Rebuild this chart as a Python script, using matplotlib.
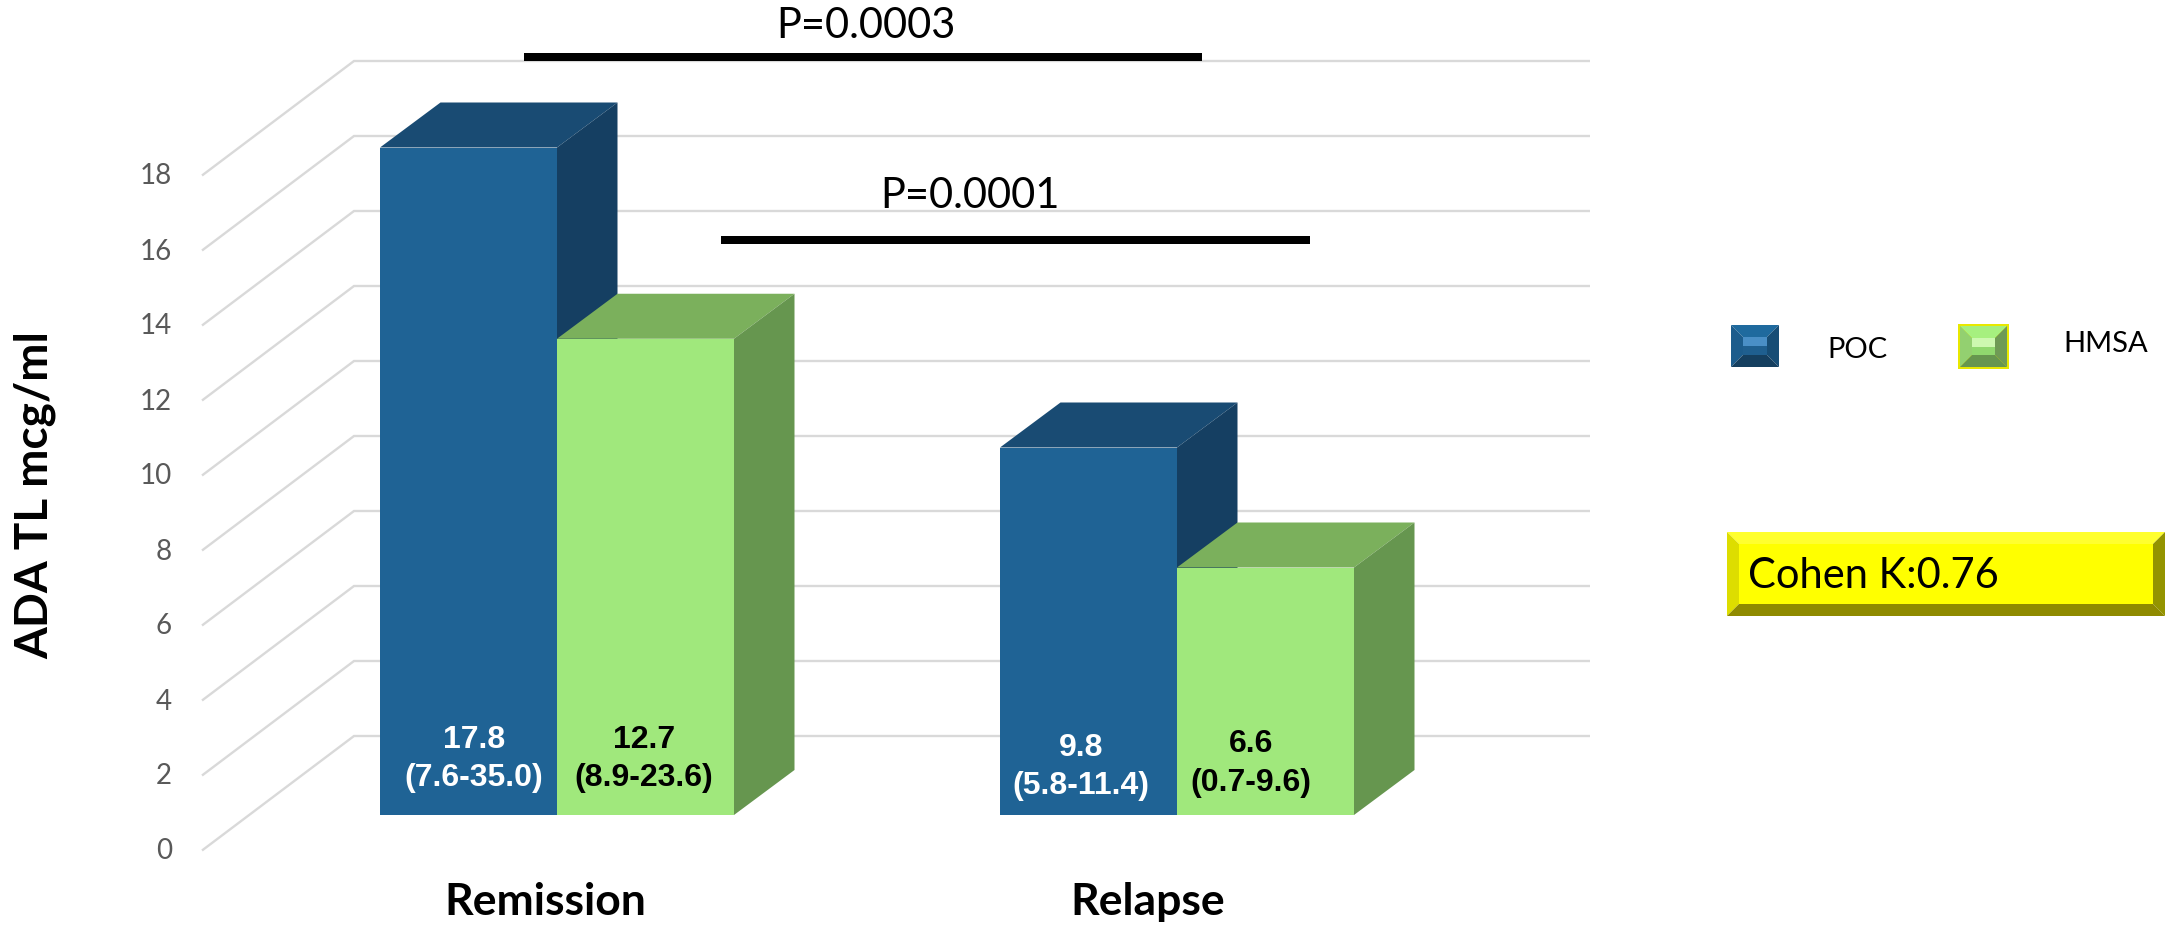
import matplotlib
matplotlib.use('Agg')
import numpy as np
import matplotlib.pyplot as plt
from matplotlib.patches import Polygon, Rectangle

groups = ['Remission', 'Relapse']
series = ['POC', 'HMSA']
poc_values = [17.8, 9.8]
hmsa_values = [12.7, 6.6]
poc_ranges = ['(7.6-35.0)', '(5.8-11.4)']
hmsa_ranges = ['(8.9-23.6)', '(0.7-9.6)']
y_ticks = [0, 2, 4, 6, 8, 10, 12, 14, 16, 18]
p_labels = ['P=0.0003', 'P=0.0001']
kappa_label = 'Cohen K:0.76'
y_title = 'ADA TL mcg/ml'

W, H = 2169, 928
BAR_PX = 177.0
UNIT_PX = 37.5
X0_PX = 380.0
Y0_PX = 816.0

def to_x(px):
    return (px - X0_PX) / BAR_PX

def to_y(py):
    return (Y0_PX - py) / UNIT_PX

# depth of the bars and of the floor, in chart units
depth_x = 60.5 / BAR_PX
depth_y = 45.0 / UNIT_PX
floor_front = to_y(851.5)
wall_back = to_y(737.0)

fig = plt.figure(figsize=(W / 100, H / 100), dpi=100, facecolor='white')
ax = fig.add_axes([0, 0, 1, 1])
ax.set_xlim(to_x(0), to_x(W))
ax.set_ylim(to_y(H), to_y(0))
ax.axis('off')

# overlay in pixel units for annotations, legend and the kappa box
ov = fig.add_axes([0, 0, 1, 1], zorder=5)
ov.set_xlim(0, W)
ov.set_ylim(H, 0)
ov.axis('off')
ov.patch.set_alpha(0)

grid_c = '#D9D9D9'
for t in y_ticks:
    xs = [to_x(202), to_x(354), to_x(1590)]
    ys = [t + floor_front, t + wall_back, t + wall_back]
    ax.plot(xs, ys, color=grid_c, lw=1.7, zorder=1, solid_capstyle='butt', solid_joinstyle='miter')
    ax.text(to_x(172), t + floor_front, str(t), ha='right', va='center',
            family='Lato', fontsize=20, color='#595959')

def bar3d(x, v, front, top, side):
    ax.bar(x, v, width=1.0, align='edge', color=front, zorder=3, linewidth=0)
    ax.add_patch(Polygon([(x, v), (x + 1, v), (x + 1 + depth_x, v + depth_y), (x + depth_x, v + depth_y)],
                         closed=True, facecolor=top, edgecolor='none', zorder=3))
    ax.add_patch(Polygon([(x + 1, 0), (x + 1 + depth_x, depth_y), (x + 1 + depth_x, v + depth_y), (x + 1, v)],
                         closed=True, facecolor=side, edgecolor='none', zorder=3))

group_left = [0.0, to_x(1000)]
for i in range(len(groups)):
    bar3d(group_left[i], poc_values[i], '#1F6395', '#194B73', '#153F62')
    bar3d(group_left[i] + 1, hmsa_values[i], '#A0E87C', '#7BB05C', '#66964F')

# value labels inside the bars
poc_pos = [(474, 740, 778), (1081, 748, 786)]
hmsa_pos = [(644, 740, 778), (1251, 744, 783)]
for i in range(len(groups)):
    px, y1, y2 = poc_pos[i]
    ov.text(px, y1, str(poc_values[i]), ha='center', va='center', family='Liberation Sans',
            weight='bold', fontsize=23, color='white')
    ov.text(px, y2, poc_ranges[i], ha='center', va='center', family='Liberation Sans',
            weight='bold', fontsize=23, color='white')
    px, y1, y2 = hmsa_pos[i]
    ov.text(px, y1, str(hmsa_values[i]), ha='center', va='center', family='Liberation Sans',
            weight='bold', fontsize=23, color='black')
    ov.text(px, y2, hmsa_ranges[i], ha='center', va='center', family='Liberation Sans',
            weight='bold', fontsize=23, color='black')

group_label_x = [545, 1148]
for name, px in zip(groups, group_label_x):
    ov.text(px, 902, name, ha='center', va='center', family='Lato', weight='bold', fontsize=32, color='black')

ov.text(35, 495, y_title, rotation=90, ha='center', va='center', family='Lato', weight='bold',
        fontsize=33, color='black')

# significance bars
ov.add_patch(Rectangle((524, 54), 1202 - 524, 8, facecolor='black', edgecolor='none'))
ov.add_patch(Rectangle((721, 237), 1310 - 721, 8, facecolor='black', edgecolor='none'))
ov.text(866, 26, p_labels[0], ha='center', va='center', family='Lato', fontsize=30, color='black')
ov.text(970, 196, p_labels[1], ha='center', va='center', family='Lato', fontsize=30, color='black')

def bevel(x0, y0, x1, y1, b, top, left, right, bottom, center):
    ov.add_patch(Polygon([(x0, y0), (x1, y0), (x1 - b, y0 + b), (x0 + b, y0 + b)], facecolor=top, edgecolor='none'))
    ov.add_patch(Polygon([(x0, y0), (x0 + b, y0 + b), (x0 + b, y1 - b), (x0, y1)], facecolor=left, edgecolor='none'))
    ov.add_patch(Polygon([(x1, y0), (x1, y1), (x1 - b, y1 - b), (x1 - b, y0 + b)], facecolor=right, edgecolor='none'))
    ov.add_patch(Polygon([(x0, y1), (x0 + b, y1 - b), (x1 - b, y1 - b), (x1, y1)], facecolor=bottom, edgecolor='none'))
    ov.add_patch(Rectangle((x0 + b, y0 + b), x1 - x0 - 2 * b, y1 - y0 - 2 * b, facecolor=center, edgecolor='none'))

# legend swatches
bevel(1731, 326, 1779, 368, 12, '#1F6A9E', '#1C5C8C', '#174D75', '#153F5F', '#1F5F8F')
ov.add_patch(Rectangle((1743, 338), 24, 9, facecolor='#4A8FC6', edgecolor='none'))
ov.add_patch(Rectangle((1958, 325), 51, 45, facecolor='#E8E800', edgecolor='#E8E800', lw=0))
bevel(1960, 327, 2007, 368, 12, '#A6F07F', '#93D070', '#6F9A55', '#66964F', '#90D86E')
ov.add_patch(Rectangle((1972, 339), 23, 9, facecolor='#CDF8B0', edgecolor='none'))
ov.text(1857, 350, series[0], ha='center', va='center', family='Lato', fontsize=21, color='black')
ov.text(2106, 344, series[1], ha='center', va='center', family='Lato', fontsize=21, color='black')

# kappa box
bevel(1727, 533, 2165, 617, 12, '#FFFF2E', '#DDDD00', '#949400', '#8F8A00', '#FFFF00')
ov.text(1748, 576, kappa_label, ha='left', va='center', family='Lato', fontsize=30, color='black')

fig.savefig('out.png', dpi=100, facecolor='white')
